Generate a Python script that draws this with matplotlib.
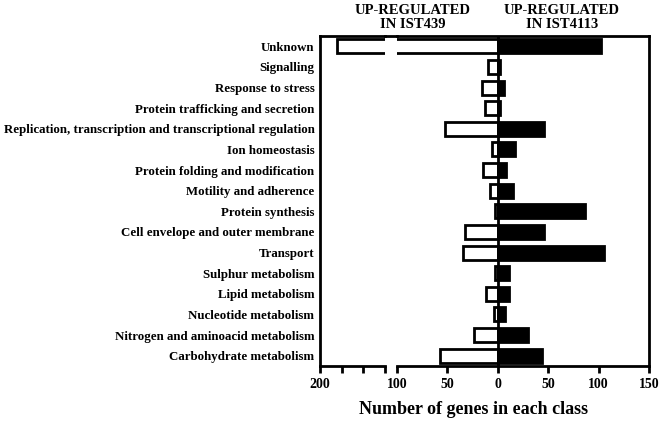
import matplotlib.pyplot as plt
import numpy as np
from matplotlib.lines import Line2D

plt.rcParams['font.family'] = ['Liberation Serif', 'DejaVu Serif']
plt.rcParams['font.weight'] = 'bold'

# Functional classes (top to bottom)
categories = [
    'Unknown',
    'Signalling',
    'Response to stress',
    'Protein trafficking and secretion',
    'Replication, transcription and transcriptional regulation',
    'Ion homeostasis',
    'Protein folding and modification',
    'Motility and adherence',
    'Protein synthesis',
    'Cell envelope and outer membrane',
    'Transport',
    'Sulphur metabolism',
    'Lipid metabolism',
    'Nucleotide metabolism',
    'Nitrogen and aminoacid metabolism',
    'Carbohydrate metabolism',
]
# genes up-regulated in IST439 (white, drawn to the left)
up_ist439 = [180, 10, 16, 13, 52, 6, 15, 8, 3, 33, 35, 3, 12, 4, 24, 57]
# genes up-regulated in IST4113 (black, drawn to the right)
up_ist4113 = [102, 2, 6, 2, 46, 17, 8, 15, 87, 46, 105, 11, 11, 7, 30, 44]

left_ticks = [-200, -175, -150, -125]
left_ticklabels = ['200', '', '', '']
right_ticks = [-100, -50, 0, 50, 100, 150]
right_ticklabels = ['100', '50', '0', '50', '100', '150']

y = np.arange(len(categories))
neg = -np.array(up_ist439)
pos = np.array(up_ist4113)

fig = plt.figure(figsize=(6.6, 4.21), dpi=100)
bottom, height = 55 / 421, 330 / 421
ax_l = fig.add_axes([320 / 660, bottom, 65 / 660, height])
ax_r = fig.add_axes([397 / 660, bottom, 252 / 660, height])

lw = 2.0
for ax in (ax_l, ax_r):
    ax.barh(y, neg, height=0.68, color='white', edgecolor='black', linewidth=lw)
    ax.barh(y, pos, height=0.68, color='black', edgecolor='black', linewidth=lw)
    ax.set_ylim(15.5, -0.5)
    for s in ax.spines.values():
        s.set_linewidth(lw)
    ax.tick_params(axis='x', direction='out', length=5, width=lw, labelsize=10, pad=4)

ax_l.set_xlim(-200, -125)
ax_l.set_xticks(left_ticks)
ax_l.set_xticklabels(left_ticklabels)
ax_l.spines['right'].set_visible(False)
ax_l.set_yticks(y)
ax_l.set_yticklabels(categories, fontsize=9.3)
ax_l.tick_params(axis='y', length=0, pad=4)

ax_r.set_xlim(-100, 150)
ax_r.set_xticks(right_ticks)
ax_r.set_xticklabels(right_ticklabels)
ax_r.spines['left'].set_visible(False)
ax_r.set_yticks([])
ax_r.axvline(0, color='black', linewidth=lw)

# continuous top frame across the axis break
top_y = bottom + height
fig.add_artist(Line2D([385 / 660, 397 / 660], [top_y, top_y], color='black',
                      linewidth=lw, transform=fig.transFigure))

fig.text(413 / 660, 1 - 18 / 421, 'UP-REGULATED\nIN IST439', ha='center', va='center',
         fontsize=10.5, fontweight='bold', linespacing=1.1)
fig.text(562 / 660, 1 - 18 / 421, 'UP-REGULATED\nIN IST4113', ha='center', va='center',
         fontsize=10.5, fontweight='bold', linespacing=1.1)
fig.text(474 / 660, 1 - 409 / 421, 'Number of genes in each class', ha='center',
         va='center', fontsize=13, fontweight='bold')

fig.savefig('out.png', dpi=100)
